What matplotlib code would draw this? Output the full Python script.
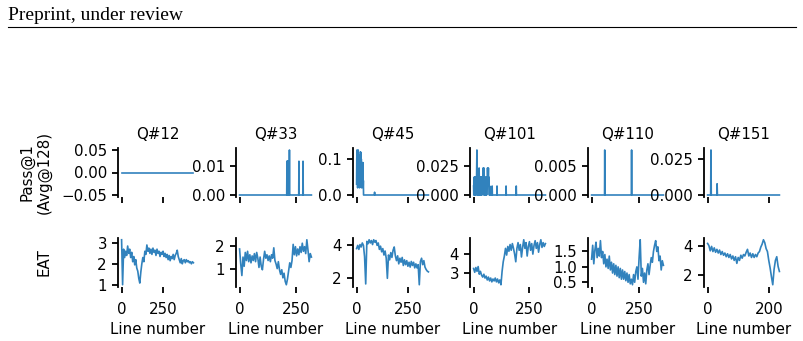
import numpy as np
import matplotlib
matplotlib.use("Agg")
import matplotlib.pyplot as plt
from matplotlib.lines import Line2D

# ---------------- data ----------------
questions = ["Q#12", "Q#33", "Q#45", "Q#101", "Q#110", "Q#151"]
n_lines = [430, 318, 352, 326, 378, 235]

# Pass@1 (Avg@128): dense head values (starting at line 0) + isolated spikes
pass_head_q12 = []
pass_spk_idx_q12 = []
pass_spk_val_q12 = []

pass_head_q33 = []
pass_spk_idx_q33 = [209, 211, 213, 215, 220, 262, 280]
pass_spk_val_q33 = [0.0117, 0.0117, 0.0117, 0.0117, 0.0156, 0.0117, 0.0117]

pass_head_q45 = [0.03, 0.10, 0.125, 0.05, 0.117, 0.02, 0.11, 0.06, 0.125, 0.03, 0.09, 0.07,
                 0.04, 0.08, 0.02, 0.07, 0.05,
                 0.11, 0.03, 0.12, 0.06, 0.117, 0.04, 0.10, 0.02, 0.09, 0.05,
                 0.09, 0.03, 0.08, 0.06, 0.09, 0.02, 0.04, 0.0]
pass_spk_idx_q45 = [88]
pass_spk_val_q45 = [0.0078]

pass_head_q101 = [0.0078, 0.0, 0.0078, 0.0156, 0.0, 0.0078, 0.0156, 0.0078, 0.0, 0.0156,
                  0.0078, 0.0, 0.0156, 0.0078, 0.0234, 0.039, 0.0078, 0.0, 0.0156, 0.0078,
                  0.0, 0.0078, 0.0156, 0.0, 0.0078, 0.0234, 0.0078, 0.0, 0.0156, 0.0078,
                  0.0, 0.0078, 0.0, 0.0156, 0.0078, 0.0, 0.0078, 0.0156, 0.0, 0.0078,
                  0.0156, 0.0078, 0.0156, 0.0234, 0.0078, 0.0156, 0.0, 0.0234, 0.0156, 0.0078,
                  0.0, 0.0078, 0.0, 0.0156, 0.0078, 0.0, 0.0, 0.0078, 0.0156, 0.0,
                  0.0078, 0.0156, 0.0078, 0.0234, 0.0156, 0.0078, 0.0156, 0.0234, 0.0078, 0.0156,
                  0.0078, 0.0, 0.0, 0.0078, 0.0, 0.0]
pass_spk_idx_q101 = [84, 106, 147, 193]
pass_spk_val_q101 = [0.0078, 0.0078, 0.0078, 0.0078]

pass_head_q110 = []
pass_spk_idx_q110 = [69, 210]
pass_spk_val_q110 = [0.0078, 0.0078]

pass_head_q151 = []
pass_spk_idx_q151 = [11, 31]
pass_spk_val_q151 = [0.03125, 0.0078]

# EAT curves (evenly spaced samples over each question's lines)
eat_q12 = [3.15, 1.0, 2.7, 2.3, 2.6, 2.4, 2.85, 2.5, 2.7, 2.3, 2.55, 2.1, 2.35, 1.95, 2.2, 1.8,
           1.65, 1.3, 1.08, 1.6, 2.0, 2.3, 2.1, 2.6, 2.45, 2.9, 2.6, 2.75, 2.5, 2.7, 2.45, 2.75,
           2.55, 2.65, 2.4, 2.7, 2.5, 2.6, 2.35, 2.55, 2.45, 2.6, 2.35, 2.5, 2.3, 2.45, 2.2, 2.4,
           2.15, 2.35, 2.25, 2.45, 2.2, 2.4, 2.5, 2.65, 2.35, 2.2, 2.05, 2.25, 2.0, 2.15, 2.2, 2.05,
           2.2, 2.1, 2.15, 2.05, 2.1, 2.0, 2.1, 2.05]
eat_q33 = [1.85, 1.2, 0.7, 1.5, 1.1, 1.7, 1.35, 1.75, 1.3, 1.6, 1.25, 1.55, 1.35, 1.65, 1.3, 1.7,
           1.45, 1.05, 1.5, 1.1, 0.95, 1.4, 1.75, 1.45, 1.6, 1.35, 1.55, 1.3, 1.6, 1.45, 1.9, 1.35,
           1.2, 1.0, 1.3, 0.95, 0.75, 0.95, 0.6, 0.8, 0.45, 0.3, 0.55, 0.9, 1.25, 1.05, 1.35, 2.05,
           1.6, 1.95, 1.55, 1.85, 1.6, 1.95, 1.7, 2.1, 1.75, 1.95, 1.65, 2.25, 1.8, 1.3, 1.65, 1.5]
eat_q45 = [3.8, 4.0, 3.75, 4.05, 3.9, 4.15, 4.0, 3.3, 1.6, 4.25, 4.1, 4.35, 4.15, 4.3, 4.05, 4.35,
           4.2, 4.3, 4.0, 4.15, 3.75, 3.95, 3.6, 3.8, 3.4, 3.65, 3.2, 1.95, 3.4, 3.1, 3.55, 3.25,
           3.7, 3.9, 3.35, 3.05, 3.35, 2.85, 3.2, 2.95, 3.25, 2.75, 3.1, 2.8, 3.05, 2.7, 2.95, 2.65,
           3.0, 2.75, 2.95, 2.6, 2.85, 2.6, 2.8, 1.55, 3.0, 3.2, 2.8, 3.05, 2.65, 2.5, 2.4, 2.35]
eat_q101 = [3.25, 3.05, 3.3, 3.1, 3.35, 2.95, 3.1, 2.9, 2.8, 2.95, 2.75, 2.85, 2.65, 2.8, 2.6, 2.75,
            2.55, 2.7, 2.6, 2.75, 2.55, 2.7, 2.5, 2.65, 2.4, 3.1, 3.6, 3.9, 4.3, 3.95, 4.4, 4.15,
            4.5, 4.2, 4.55, 4.3, 4.0, 3.6, 4.3, 4.6, 4.2, 4.5, 3.85, 4.35, 4.75, 4.3, 4.6, 3.9,
            4.4, 4.65, 4.2, 4.55, 4.0, 4.45, 4.7, 4.3, 4.6, 4.1, 4.5, 4.75, 4.35, 4.6, 4.4, 4.55]
eat_q110 = [1.25, 1.7, 1.1, 1.55, 1.8, 1.3, 1.6, 1.35, 1.85, 1.3, 1.5, 1.1, 1.4, 1.0, 1.25, 0.95,
            1.35, 0.9, 1.15, 0.8, 1.1, 0.75, 1.05, 0.7, 1.0, 0.65, 0.95, 0.6, 0.9, 0.6, 0.85, 0.55,
            0.8, 0.5, 0.75, 0.45, 0.6, 0.42, 0.75, 0.5, 0.85, 1.0, 0.6, 1.3, 1.88, 0.7, 0.95, 0.5,
            0.8, 0.45, 0.9, 1.1, 0.75, 1.05, 1.3, 1.15, 1.5, 1.7, 1.85, 1.5, 1.65, 1.2, 1.35, 0.9,
            1.2, 1.05]
eat_q151 = [4.15, 4.0, 3.65, 3.95, 3.6, 3.85, 3.55, 3.75, 3.5, 3.7, 3.4, 3.6, 3.35, 3.5, 3.25, 3.45,
            3.2, 3.4, 3.1, 3.3, 3.0, 3.25, 2.8, 3.2, 3.0, 3.35, 3.15, 3.4, 3.3, 3.55, 3.75, 3.3,
            3.5, 3.2, 3.45, 3.2, 3.4, 3.25, 3.5, 3.6, 3.9, 4.1, 4.4, 4.2, 3.8, 3.6, 3.0, 2.5,
            1.9, 1.35, 2.4, 3.0, 3.25, 2.6, 2.25]

pass_heads = [pass_head_q12, pass_head_q33, pass_head_q45, pass_head_q101, pass_head_q110, pass_head_q151]
pass_idx = [pass_spk_idx_q12, pass_spk_idx_q33, pass_spk_idx_q45, pass_spk_idx_q101, pass_spk_idx_q110, pass_spk_idx_q151]
pass_val = [pass_spk_val_q12, pass_spk_val_q33, pass_spk_val_q45, pass_spk_val_q101, pass_spk_val_q110, pass_spk_val_q151]
eats = [eat_q12, eat_q33, eat_q45, eat_q101, eat_q110, eat_q151]

LINE_COLOR = "#3182bd"
FS = 10.8

# ---------------- figure ----------------
W, H = 804, 341
fig = plt.figure(figsize=(W / 100, H / 100), dpi=100)
plt.rcParams["font.family"] = ["DejaVu Sans"]

fig.text(8 / W, 1 - 19.5 / H, "Preprint, under review", family="Liberation Serif",
         fontsize=14, va="baseline", ha="left")
fig.add_artist(Line2D([8 / W, 796 / W], [1 - 27 / H, 1 - 27 / H], color="black", lw=0.8))

lefts_px = [118, 236, 353, 470, 588, 704]
ax_w = 79
ax_h = 49.5
top_row_top = 147.75
bot_row_top = 237.5


def style(ax):
    for s in ["top", "right", "bottom"]:
        ax.spines[s].set_visible(False)
    ax.spines["left"].set_linewidth(1.3)
    ax.tick_params(axis="both", width=1.3, length=4.5, labelsize=FS, pad=3.5)
    ax.tick_params(axis="x", pad=6)


axes_top, axes_bot = [], []
for i, q in enumerate(questions):
    n = n_lines[i]
    x_left = lefts_px[i] / W
    # top row
    ax = fig.add_axes([x_left, 1 - (top_row_top + ax_h) / H, ax_w / W, ax_h / H])
    y = np.zeros(n)
    head = pass_heads[i]
    if len(head):
        y[:len(head)] = head
    for k, v in zip(pass_idx[i], pass_val[i]):
        y[k] = v
    ax.plot(np.arange(n), y, color=LINE_COLOR, lw=1.2)
    ax.set_title(q, fontsize=FS, pad=6)
    style(ax)
    ax.tick_params(axis="x", labelbottom=False)
    axes_top.append(ax)

    # bottom row
    axb = fig.add_axes([x_left, 1 - (bot_row_top + ax_h) / H, ax_w / W, ax_h / H])
    e = eats[i]
    xe = np.linspace(0, n - 1, len(e))
    axb.plot(xe, e, color=LINE_COLOR, lw=1.2)
    style(axb)
    axb.set_xlabel("Line number", fontsize=FS, labelpad=4)
    axes_bot.append(axb)
    axb.set_xlim(ax.get_xlim())

axes_top[0].set_ylabel("Pass@1\n(Avg@128)", fontsize=FS)
axes_bot[0].set_ylabel("EAT", fontsize=FS)
lab_x = (52 - lefts_px[0]) / ax_w
axes_top[0].yaxis.set_label_coords(lab_x, 0.5)
axes_bot[0].yaxis.set_label_coords(lab_x, 0.5)

fig.savefig("out.png", dpi=100)
